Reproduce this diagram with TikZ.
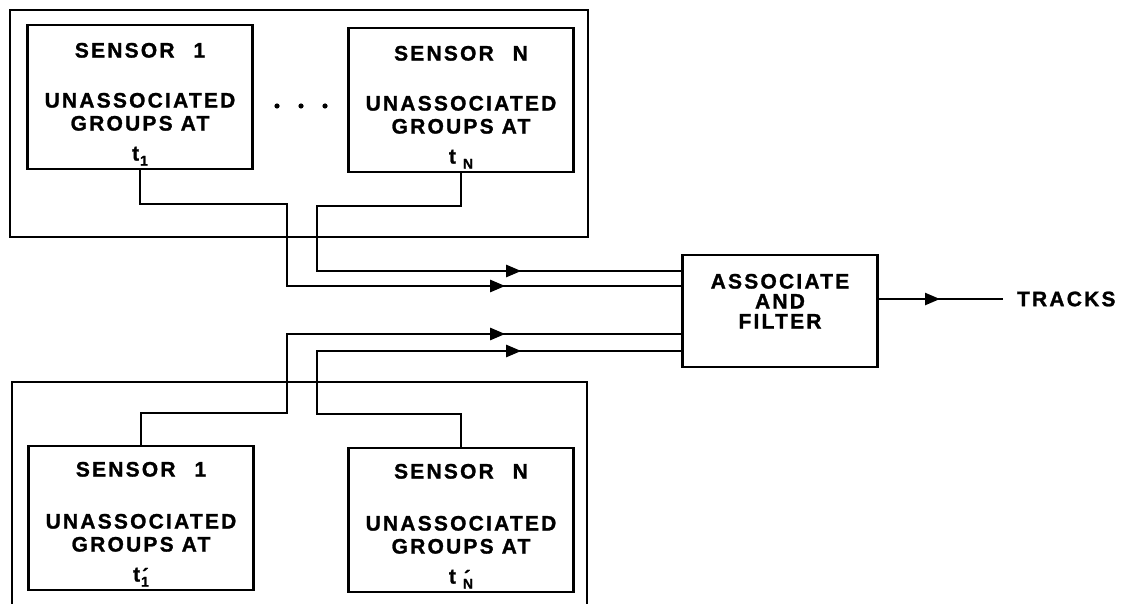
\documentclass[tikz,border=0pt]{standalone}
\usepackage{fontspec}
\newfontfamily\diagfont{Liberation Sans}[LetterSpace=10.5, BoldFeatures={FakeBold=1.2}]
\usetikzlibrary{arrows.meta,decorations.markings}

% t with a subscript, and t with subscript and prime
\newcommand{\tsub}[2]{t\hspace{#1}\raisebox{-5pt}{\fontsize{14}{14}\selectfont #2}}
\newcommand{\tsubp}[2]{t\hspace{#1}\raisebox{-5pt}{\fontsize{14}{14}\selectfont\rlap{\raisebox{4pt}{\fontsize{20}{20}\selectfont\kern1pt ´}}#2}}

\begin{document}
\begin{tikzpicture}
[
    x=1pt, y=-1pt,
    frame/.style={line width=2.8pt},
    sensorbox/.style={draw, line width=2.6pt, minimum width=225pt, minimum height=144pt},
    groupbox/.style={draw, line width=2.6pt, minimum width=195pt, minimum height=112pt},
    grouptext/.style={font={\diagfont\bfseries\fontsize{21}{23}\selectfont}, align=center, inner sep=0pt, anchor=north},
    assoctext/.style={font={\diagfont\bfseries\fontsize{21}{20}\selectfont}, align=center, inner sep=0pt, anchor=north},
    flow/.style={line width=2.4pt},
    midarrow/.style={postaction={decorate}, decoration={markings,
        mark=at position #1 with {\arrow{Triangle[length=15pt,width=12pt]}}}},
]
\useasboundingbox (0,0) rectangle (1123,604);

% sensors at the first times
\draw[frame] (10,10) rectangle (588,237);
\node[sensorbox] (s1top) at (140,97) {};
\node[grouptext] (s1toptxt) at ([yshift=-19pt]s1top.north)
    {SENSOR\hspace{0.9em}1\\[27pt]UNASSOCIATED\\GROUPS AT\\[7pt]\tsub{1pt}{1}};
\node[sensorbox] (sNtop) at (461,100) {};
\node[grouptext] (sNtoptxt) at ([yshift=-19pt]sNtop.north)
    {SENSOR\hspace{0.9em}N\\[27pt]UNASSOCIATED\\GROUPS AT\\[7pt]\tsub{7pt}{N}};
\foreach \x in {277,301,325} \fill (\x,106) circle (2.6pt);

% sensors at the second times
\draw[frame] (12,604) |- (587,382) -- (587,604);
\node[sensorbox] (s1bot) at (141,518) {};
\node[grouptext] (s1bottxt) at ([yshift=-17pt]s1bot.north)
    {SENSOR\hspace{0.9em}1\\[29pt]UNASSOCIATED\\GROUPS AT\\[7pt]\tsubp{1pt}{1}};
\node[sensorbox] (sNbot) at (461,520) {};
\node[grouptext] (sNbottxt) at ([yshift=-17pt]sNbot.north)
    {SENSOR\hspace{0.9em}N\\[29pt]UNASSOCIATED\\GROUPS AT\\[7pt]\tsubp{7pt}{N}};

% association
\node[groupbox] (assoc) at (780,311) {};
\node[assoctext] (assoctxt) at ([yshift=-20pt]assoc.north) {ASSOCIATE\\AND\\FILTER};
\node[font={\diagfont\bfseries\fontsize{21}{23}\selectfont}, inner sep=0pt, outer xsep=14pt, anchor=west] (tracks) at (1003,299) {TRACKS};

\draw[flow, midarrow=-176pt] (s1top.south) |- (287,204) |- (assoc.west |- 0,286);
\draw[flow, midarrow=-160pt] (sNtop.south) |- (317,206) |- (assoc.west |- 0,271);
\draw[flow, midarrow=-176pt] (s1bot.north) |- (287,413) |- (assoc.west |- 0,334);
\draw[flow, midarrow=-160pt] (sNbot.north) |- (317,414) |- (assoc.west |- 0,351);
\draw[flow, midarrow=-63pt] (assoc.east |- tracks.west) -- (tracks.west);
\end{tikzpicture}
\end{document}
